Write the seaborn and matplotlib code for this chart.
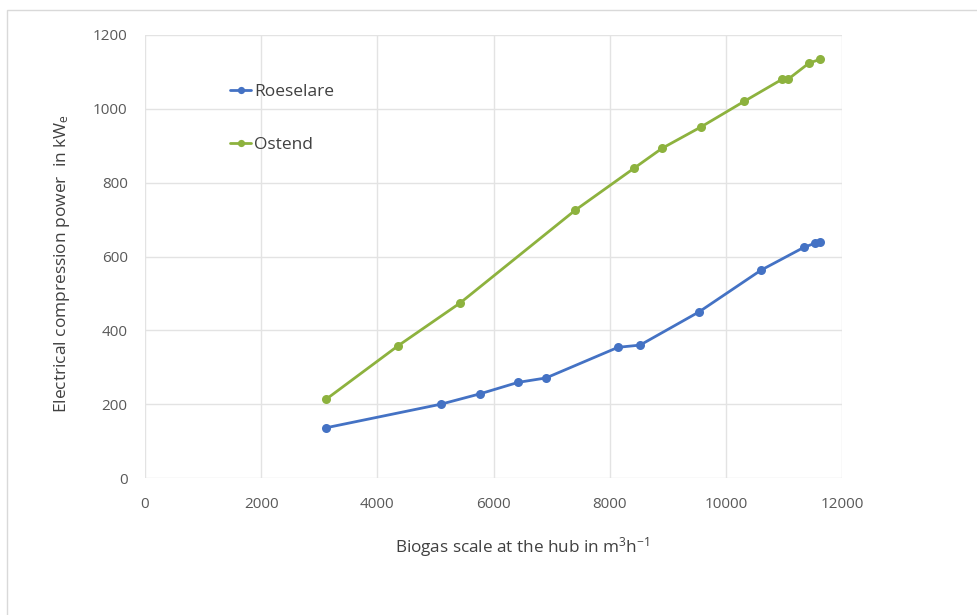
import matplotlib
matplotlib.use("Agg")
import matplotlib.pyplot as plt
import seaborn as sns
import pandas as pd
from matplotlib.patches import Rectangle

roeselare_x = [3116, 5096, 5768, 6422, 6904, 8144, 8523, 9539, 10606, 11347, 11536, 11622]
roeselare_y = [136, 200, 228, 259, 271, 354, 360, 450, 563, 625, 636, 638]
ostend_x = [3116, 4356, 5424, 7404, 8419, 8901, 9573, 10313, 10968, 11071, 11433, 11622]
ostend_y = [213, 358, 474, 725, 839, 893, 951, 1020, 1080, 1080, 1124, 1134]
x_ticks = [0, 2000, 4000, 6000, 8000, 10000, 12000]
y_ticks = [0, 200, 400, 600, 800, 1000, 1200]

df = pd.concat([
    pd.DataFrame({"x": roeselare_x, "y": roeselare_y, "site": "Roeselare"}),
    pd.DataFrame({"x": ostend_x, "y": ostend_y, "site": "Ostend"}),
])

sns.set_style("white")
plt.rcParams['font.family'] = ['Open Sans', 'DejaVu Sans']
plt.rcParams['mathtext.fontset'] = 'custom'
plt.rcParams['mathtext.rm'] = 'Open Sans'
plt.rcParams['mathtext.it'] = 'Open Sans'

fig = plt.figure(figsize=(9.77, 6.15), dpi=100)
ax = fig.add_axes([145/977, 1-478/615, 697/977, 443/615])

palette = {"Roeselare": "#4472C4", "Ostend": "#8DB23E"}
sns.lineplot(data=df, x="x", y="y", hue="site", palette=palette, marker="o",
             markersize=6.5, markeredgewidth=0, linewidth=2, ax=ax, sort=False)

ax.set_xlim(0, 12000)
ax.set_ylim(0, 1200)
ax.set_xticks(x_ticks)
ax.set_yticks(y_ticks)
ax.grid(True, color="#E3E3E3", linewidth=1)
ax.set_axisbelow(True)
for s in ax.spines.values():
    s.set_visible(False)
ax.tick_params(axis="both", length=0, labelsize=11, colors="#595959")
ax.tick_params(axis="x", pad=14)
ax.tick_params(axis="y", pad=12.5)

ax.set_xlabel("Biogas scale at the hub in m$^3$h$^{-1}$", fontsize=12.3, color="#404040")
ax.set_ylabel("Electrical compression power  in kW$_e$", fontsize=12.5, color="#404040")
ax.xaxis.set_label_coords(0.541, -0.128)
ax.yaxis.set_label_coords(-0.105, 0.485)

leg = ax.legend(loc="upper left", bbox_to_anchor=(0.1, 0.925), frameon=False,
                fontsize=12.5, labelspacing=2.15, handlelength=1.2, handletextpad=0.15,
                labelcolor="#404040", markerscale=0.8)

fig.patches.append(Rectangle((7/977, -0.1), 1.2, 1 - 10/615 + 0.1, transform=fig.transFigure,
                             fill=False, edgecolor="#D9D9D9", linewidth=1))

fig.savefig("out.png", dpi=100)
